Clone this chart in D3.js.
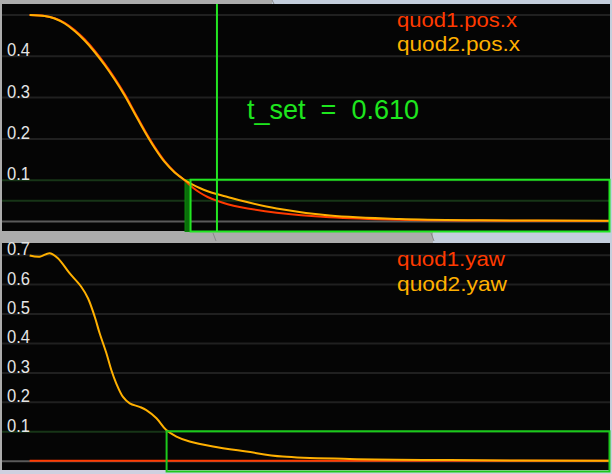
<!DOCTYPE html>
<html><head><meta charset="utf-8">
<script src="https://cdn.jsdelivr.net/npm/d3@7"></script>
<style>
html,body{margin:0;padding:0;background:#c4cedc;}
svg{display:block;}
text{font-family:"Liberation Sans","DejaVu Sans",sans-serif;}
</style></head>
<body>
<svg id="c" width="612" height="474"></svg>
<script>
// ---------- data ----------
const timeTop = [0, 0.0488, 0.0814, 0.1140, 0.1465, 0.1791, 0.2117, 0.2442, 0.2768, 0.3094, 0.3419, 0.3745, 0.4071, 0.4396, 0.4722, 0.5048, 0.5308, 0.5536, 0.5797, 0.6090, 0.6448, 0.6839, 0.8044, 0.9770, 1.2049, 1.4655, 1.8889];
const quad1PosX = [0.4988, 0.4966, 0.4910, 0.4800, 0.4625, 0.4400, 0.4125, 0.3810, 0.3460, 0.3072, 0.2636, 0.2198, 0.1795, 0.1450, 0.1190, 0.0985, 0.0811, 0.0690, 0.0581, 0.0492, 0.0407, 0.0339, 0.0201, 0.0090, 0.0029, 0.0010, 0.0];
const quad2PosX = [0.4988, 0.4964, 0.4903, 0.4782, 0.4600, 0.4370, 0.4092, 0.3777, 0.3426, 0.3039, 0.2603, 0.2167, 0.1768, 0.1429, 0.1174, 0.0993, 0.0881, 0.0799, 0.0722, 0.0654, 0.0581, 0.0501, 0.0303, 0.0133, 0.0048, 0.0017, 0.0005];

const timeBottom = [0, 0.033, 0.065, 0.092, 0.130, 0.168, 0.190, 0.212, 0.228, 0.250, 0.266, 0.282, 0.304, 0.326, 0.358, 0.380, 0.413, 0.445, 0.478, 0.521, 0.597, 0.706, 0.824, 1.042, 1.368, 1.889];
const quad2Yaw = [0.697, 0.693, 0.705, 0.688, 0.637, 0.591, 0.552, 0.489, 0.433, 0.365, 0.308, 0.263, 0.217, 0.195, 0.183, 0.172, 0.144, 0.104, 0.082, 0.065, 0.048, 0.031, 0.014, 0.006, 0.002, 0.0];
const quad1Yaw = timeBottom.map(() => 0);

const topGrid = [0, 0.05, 0.1, 0.2, 0.3, 0.4, 0.5];
const topLabels = ["0.1", "0.2", "0.3", "0.4"];
const bottomGrid = [0, 0.1, 0.2, 0.3, 0.4, 0.5, 0.6, 0.7];
const bottomLabels = ["0.1", "0.2", "0.3", "0.4", "0.5", "0.6", "0.7"];

const topLegend = ["quod1.pos.x", "quod2.pos.x"];
const bottomLegend = ["quod1.yaw", "quod2.yaw"];
const tSet = 0.610;
const tSetLabel = "t_set  =  0.610";
const topBandStart = 0.524, topBandStart2 = 0.506, topBandLevel = 0.1;
const bottomBandStart = 0.446, bottomBandLevel = 0.1;
const tDomain = [-0.09, 1.89];

// ---------- drawing ----------
const svg = d3.select("#c");
const RED = "#ff3a00", ORANGE = "#ffb000", GREEN = "#22e622";

// window chrome
svg.append("rect").attr("x",0).attr("y",0).attr("width",612).attr("height",474).attr("fill","#c4cedc");
svg.append("rect").attr("x",0).attr("y",0).attr("width",272).attr("height",4).attr("fill","#acacac");
svg.append("rect").attr("x",0).attr("y",0).attr("width",2).attr("height",474).attr("fill","#acacac");
svg.append("rect").attr("x",0).attr("y",231).attr("width",433).attr("height",12).attr("fill","#acacac");
svg.append("rect").attr("x",0).attr("y",470).attr("width",612).attr("height",4).attr("fill","#cfd0e0");
[[272,0,274,4],[213,233,216,241],[431,233,434,241]].forEach(d=>{
  svg.append("line").attr("x1",d[0]).attr("y1",d[1]).attr("x2",d[2]).attr("y2",d[3]).attr("stroke","#888").attr("stroke-width",1);
});

const x = d3.scaleLinear().domain(tDomain).range([2, 610]);

function panel(top, bottom, yDomain, grid, labels, greenLines) {
  const y = d3.scaleLinear().domain(yDomain).range([bottom, top]);
  const g = svg.append("g");
  g.append("rect").attr("x",2).attr("y",top).attr("width",608).attr("height",bottom-top).attr("fill","#050505");
  const fmt = d3.format(".1f");
  const ax = g.append("g").attr("transform","translate(2,0)")
    .call(d3.axisRight(y).tickValues(grid).tickSize(608)
      .tickFormat(v => (labels.includes(fmt(v)) && Math.abs(v*10 - Math.round(v*10)) < 1e-6) ? fmt(v) : ""));
  ax.select(".domain").remove();
  ax.selectAll(".tick line")
    .attr("stroke", v => v === 0 ? "#5a5a5a" : (greenLines.includes(v) ? "#173517" : "#202020"))
    .attr("stroke-width", 2);
  ax.selectAll(".tick text")
    .attr("x", 5).attr("dy", 0).attr("text-anchor","start")
    .attr("fill","#e6e6e6").attr("font-size", 18)
    .attr("font-family","Liberation Sans, DejaVu Sans, sans-serif")
    .attr("textLength", 23).attr("lengthAdjust","spacingAndGlyphs");
  return {g, y};
}

// top panel
const P1 = panel(4, 231, [-0.0242, 0.5254], topGrid, topLabels, [0.05, 0.1]);
const y1 = P1.y;
P1.g.append("rect").attr("x", x(topBandStart2)).attr("y", y1(topBandLevel))
  .attr("width", x(topBandStart) - x(topBandStart2)).attr("height", 231.5 - y1(topBandLevel))
  .attr("fill","#0a6e0a").attr("stroke","#0b8a0b").attr("stroke-width",1);
const line1 = d3.line().x((d,i)=>x(timeTop[i])).y(d=>y1(d)).curve(d3.curveCatmullRom.alpha(0.5));
P1.g.append("path").attr("d", line1(quad1PosX)).attr("fill","none").attr("stroke",RED).attr("stroke-width",2);
P1.g.append("path").attr("d", line1(quad2PosX)).attr("fill","none").attr("stroke",ORANGE).attr("stroke-width",2);
P1.g.append("rect").attr("x", x(topBandStart)).attr("y", y1(topBandLevel))
  .attr("width", 609.5 - x(topBandStart)).attr("height", 231.5 - y1(topBandLevel))
  .attr("fill","none").attr("stroke",GREEN).attr("stroke-width",2);
P1.g.append("line").attr("x1", x(tSet)).attr("x2", x(tSet)).attr("y1", 4).attr("y2", 231)
  .attr("stroke", GREEN).attr("stroke-width", 2);
P1.g.append("text").attr("x", 247).attr("y", 119).attr("fill", "#1ee61e")
  .attr("font-size", 28).style("white-space","pre")
  .attr("textLength", 172).attr("lengthAdjust","spacingAndGlyphs").text(tSetLabel);
P1.g.selectAll(".leg").data(topLegend).join("text")
  .attr("x", 397).attr("y", (d,i)=> 27 + i*24)
  .attr("fill", (d,i)=> i===0 ? RED : ORANGE).attr("font-size", 21)
  .attr("textLength", (d,i)=> i===0 ? 120 : 123).attr("lengthAdjust","spacingAndGlyphs")
  .text(d=>d);

// bottom panel
const P2 = panel(243, 470, [-0.0316, 0.7397], bottomGrid, bottomLabels, [0.1]);
const y2 = P2.y;
const line2 = d3.line().x((d,i)=>x(timeBottom[i])).y(d=>y2(d)).curve(d3.curveCatmullRom.alpha(0.5));
P2.g.append("path").attr("d", line2(quad1Yaw)).attr("fill","none").attr("stroke",RED).attr("stroke-width",2);
P2.g.append("path").attr("d", line2(quad2Yaw)).attr("fill","none").attr("stroke",ORANGE).attr("stroke-width",2);
P2.g.append("rect").attr("x", x(bottomBandStart)).attr("y", y2(bottomBandLevel))
  .attr("width", 609.5 - x(bottomBandStart)).attr("height", 471.5 - y2(bottomBandLevel))
  .attr("fill","none").attr("stroke","#1cc81c").attr("stroke-width",2);
P2.g.selectAll(".leg").data(bottomLegend).join("text")
  .attr("x", 397).attr("y", (d,i)=> 266 + i*25)
  .attr("fill", (d,i)=> i===0 ? RED : ORANGE).attr("font-size", 21)
  .attr("textLength", (d,i)=> i===0 ? 108 : 110).attr("lengthAdjust","spacingAndGlyphs")
  .text(d=>d);
</script>
</body></html>
